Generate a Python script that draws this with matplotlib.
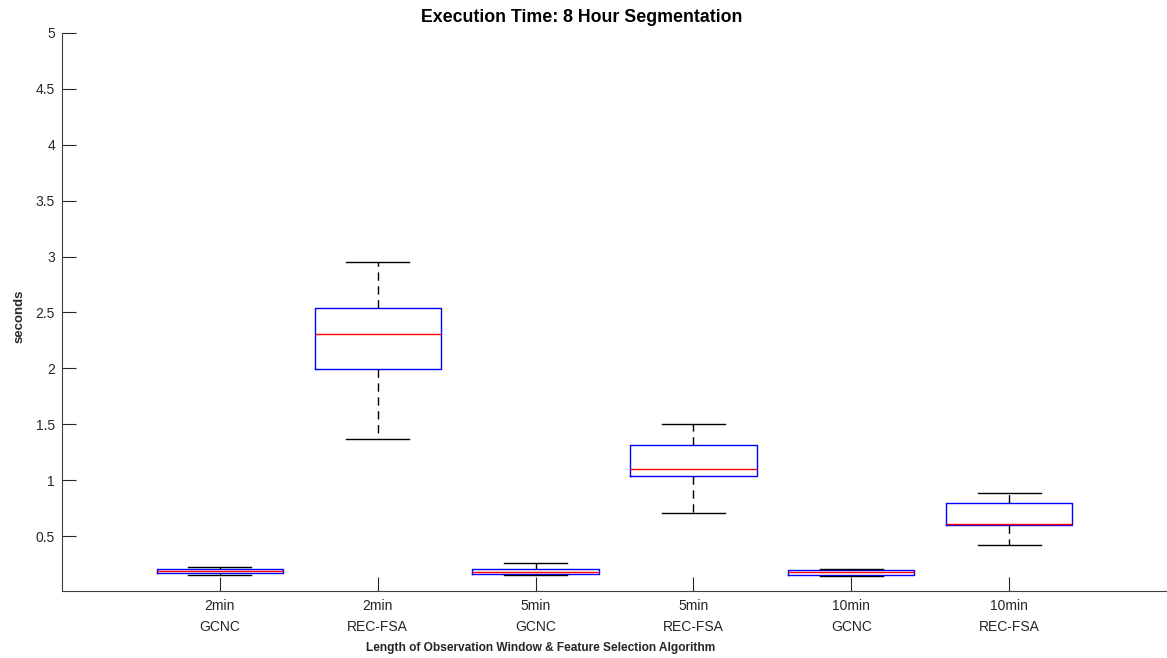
import matplotlib
matplotlib.use("Agg")
import matplotlib.pyplot as plt

plt.rcParams['font.family'] = ['Liberation Sans', 'DejaVu Sans']

# Group labels (window length / algorithm)
windows = ["2min", "2min", "5min", "5min", "10min", "10min"]
algorithms = ["GCNC", "REC-FSA", "GCNC", "REC-FSA", "GCNC", "REC-FSA"]

# Box statistics in seconds
whisker_low = [0.151, 1.37, 0.154, 0.71, 0.140, 0.42]
q1 = [0.166, 1.99, 0.160, 1.037, 0.154, 0.601]
median = [0.184, 2.31, 0.181, 1.097, 0.175, 0.607]
q3 = [0.202, 2.54, 0.208, 1.31, 0.193, 0.798]
whisker_high = [0.225, 2.95, 0.262, 1.50, 0.202, 0.887]

y_ticks = [0.5, 1, 1.5, 2, 2.5, 3, 3.5, 4, 4.5, 5]

stats = []
for i in range(len(windows)):
    stats.append({
        "whislo": whisker_low[i], "q1": q1[i], "med": median[i],
        "q3": q3[i], "whishi": whisker_high[i], "fliers": [],
    })

fig = plt.figure(figsize=(11.67, 6.58), dpi=100)
ax = fig.add_axes([62 / 1167, 1 - 591 / 658, 1 - 62 / 1167, (591 - 33) / 658])

positions = list(range(1, len(windows) + 1))
ax.bxp(
    stats, positions=positions, widths=0.8, showfliers=False,
    boxprops=dict(color="#0000ff", linewidth=1.0),
    medianprops=dict(color="#ff0000", linewidth=1.0),
    whiskerprops=dict(color="black", linewidth=1.0, linestyle=(0, (6, 4))),
    capprops=dict(color="black", linewidth=1.0),
    capwidths=0.4,
)

ax.set_xlim(0, 7)
ax.set_ylim(0.008, 5)
ax.set_yticks(y_ticks)
ax.set_yticklabels([f"{v:g}" for v in y_ticks])
ax.set_xticks(positions)
ax.set_xticklabels([f"{w}\n{a}" for w, a in zip(windows, algorithms)], linespacing=1.65)

for side in ("top", "right"):
    ax.spines[side].set_visible(False)
for side in ("left", "bottom"):
    ax.spines[side].set_color("#404040")
    ax.spines[side].set_linewidth(0.8)

ax.tick_params(axis="both", direction="in", length=10, width=0.8, color="#262626",
               labelcolor="#262626", labelsize=10)
ax.tick_params(axis="x", pad=6)
ax.tick_params(axis="y", pad=5)

fig.text(582 / 1167, 1 - 18 / 658, "Execution Time: 8 Hour Segmentation",
         ha="center", va="center", fontsize=12.8, fontweight="bold", color="black")
fig.text(541 / 1167, 1 - 648 / 658, "Length of Observation Window & Feature Selection Algorithm",
         ha="center", va="center", fontsize=8.6, fontweight="bold", color="#262626")
fig.text(20 / 1167, 1 - 316 / 658, "seconds", rotation=90,
         ha="center", va="center", fontsize=9.5, fontweight="bold", color="#262626")

fig.savefig("out.png", dpi=100, facecolor="white")
